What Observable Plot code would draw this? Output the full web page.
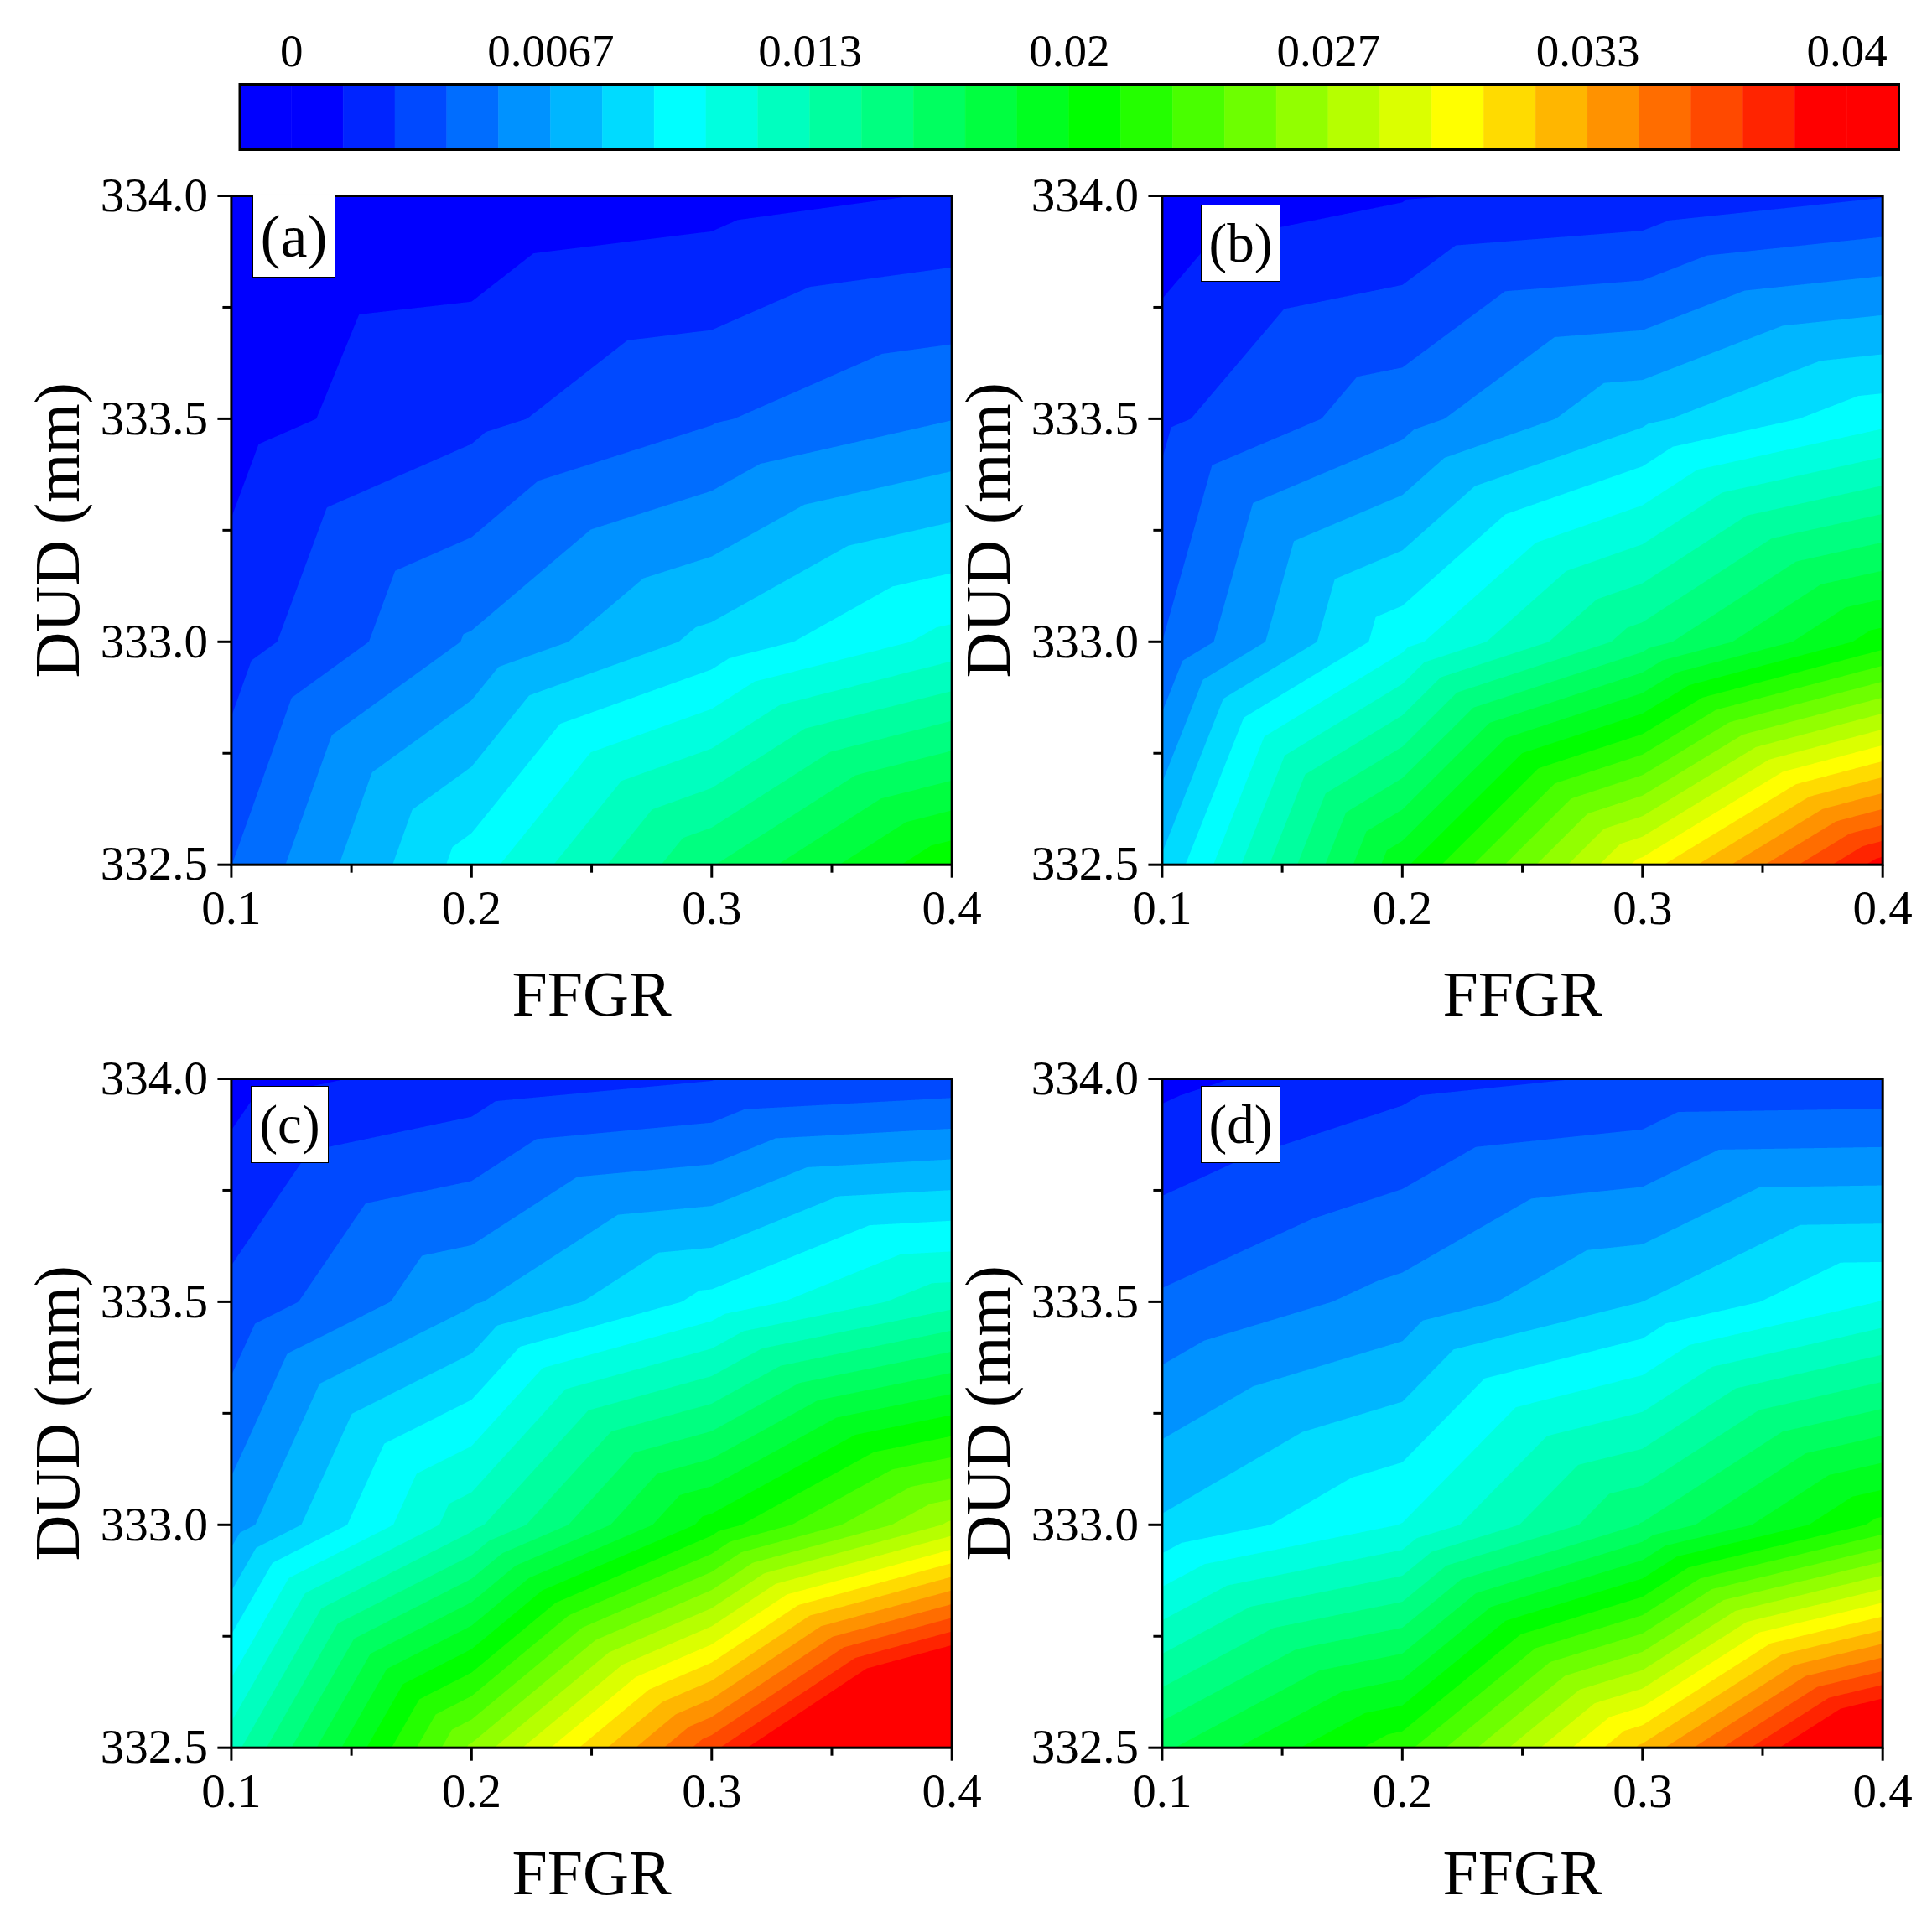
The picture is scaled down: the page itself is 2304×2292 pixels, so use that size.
<!DOCTYPE html>
<html>
<head>
<meta charset="utf-8">
<script src="https://cdn.jsdelivr.net/npm/d3@7"></script>
<script src="https://cdn.jsdelivr.net/npm/@observablehq/plot@0.6"></script>
<style>
  html, body { margin: 0; padding: 0; background: #fff; color: #000; }
  body { position: relative; width: 2304px; height: 2292px; overflow: hidden; font-family: "Liberation Serif", serif; }
  svg { position: absolute; overflow: visible; background: transparent; }
  .tag { position: absolute; box-sizing: border-box; background: #fff; border: 1.5px solid #000;
         display: flex; align-items: center; justify-content: center; line-height: 1; z-index: 5; }
</style>
</head>
<body>
<script>
// Mesh nodes of every panel
const ffgr = [0.1, 0.2, 0.3, 0.4];
const dud = [334, 333.5, 333, 332.5];

// Node values, one row per DUD (top to bottom), one column per FFGR
const valuesA = [
  0.000227, 0.000453, 0.000853, 0.001427,
  0.0008,   0.002307, 0.003867, 0.005293,
  0.002,    0.005493, 0.0084,   0.011133,
  0.003987, 0.009967, 0.015920, 0.021093
];
const valuesB = [
  0.00044,  0.001227, 0.001733, 0.0026,
  0.002373, 0.004827, 0.007707, 0.0102,
  0.004,    0.0102,   0.015333, 0.020667,
  0.008227, 0.019680, 0.029827, 0.039333
];
const valuesC = [
  0.000827, 0.00188,  0.0026,   0.003173,
  0.003027, 0.006507, 0.009733, 0.012853,
  0.005973, 0.012933, 0.020533, 0.026933,
  0.0128,   0.0256,   0.036933, 0.048667
];
const valuesD = [
  0.000973, 0.00224,  0.002827, 0.00296,
  0.0042,   0.0058,   0.008,    0.01072,
  0.0082,   0.010707, 0.016093, 0.021733,
  0.017067, 0.022173, 0.032307, 0.043467
];

// Contour levels and the 32 band colours of the colour bar
const levels = [0, 0.00133333, 0.00266667, 0.004, 0.00533333, 0.00666667, 0.008, 0.00933333, 0.01066667, 0.012,
  0.01333333, 0.01466667, 0.016, 0.01733333, 0.01866667, 0.02, 0.02133333, 0.02266667, 0.024, 0.02533333,
  0.02666667, 0.028, 0.02933333, 0.03066667, 0.032, 0.03333333, 0.03466667, 0.036, 0.03733333, 0.03866667, 0.04];
const bandColors = ["#0000ff", "#0000ff", "#0024ff", "#0049ff", "#006dff", "#0092ff", "#00b6ff", "#00dbff",
  "#00ffff", "#00ffdf", "#00ffbf", "#00ff9f", "#00ff80", "#00ff60", "#00ff40", "#00ff20",
  "#00ff00", "#24ff00", "#49ff00", "#6dff00", "#92ff00", "#b6ff00", "#dbff00", "#ffff00",
  "#ffdb00", "#ffb600", "#ff9200", "#ff6d00", "#ff4900", "#ff2400", "#ff0000", "#ff0000"];
const barEdges = [-0.00133333, ...levels, 0.04133333];
const barTickValues = [0, 0.00666667, 0.01333333, 0.02, 0.02666667, 0.03333333, 0.04];
const barTickLabels = ["0", "0.0067", "0.013", "0.02", "0.027", "0.033", "0.04"];

const xMajor = [0.1, 0.2, 0.3, 0.4];
const xMinor = [0.15, 0.25, 0.35];
const yMajor = [332.5, 333, 333.5, 334];
const yMinor = [332.75, 333.25, 333.75];

const panels = [
  {name: "(a)", values: valuesA, left: 0,      top: 192.5,  titleGap: 180, tagFont: 72, box: [301, 232, 99, 99]},
  {name: "(b)", values: valuesB, left: 1109.5, top: 192.5,  titleGap: 180, tagFont: 65, box: [1432, 244, 95, 92]},
  {name: "(c)", values: valuesC, left: 0,      top: 1245.8, titleGap: 175, tagFont: 65, box: [299, 1295, 93, 92]},
  {name: "(d)", values: valuesD, left: 1109.5, top: 1245.8, titleGap: 175, tagFont: 65, box: [1432, 1295, 95, 92]}
];

// Linear interpolation on the triangles of the mesh: each grid cell is split
// along the diagonal that runs from its upper left to its lower right node.
function triangleMesh(index, w, h, X, Y, V) {
  const I = Array.from(index);
  const xs = [...new Set(I.map((i) => X[i]))].sort(d3.ascending);
  const ys = [...new Set(I.map((i) => Y[i]))].sort(d3.ascending);
  const node = new Map(I.map((i) => [X[i] + "," + Y[i], +V[i]]));
  const at = (c, r) => node.get(xs[c] + "," + ys[r]);
  const out = new Float64Array(w * h);
  const cell = (vals, p) => Math.min(vals.length - 2, Math.max(0, d3.bisectRight(vals, p) - 1));
  for (let j = 0; j < h; ++j) {
    const py = j + 0.5, r = cell(ys, py), v = (py - ys[r]) / (ys[r + 1] - ys[r]);
    for (let i = 0; i < w; ++i) {
      const px = i + 0.5, c = cell(xs, px), u = (px - xs[c]) / (xs[c + 1] - xs[c]);
      const tl = at(c, r), tr = at(c + 1, r), bl = at(c, r + 1), br = at(c + 1, r + 1);
      out[i + j * w] = u >= v
        ? tl + u * (tr - tl) + v * (br - tr)
        : tl + v * (bl - tl) + u * (br - bl);
    }
  }
  return out;
}

const colorScale = {type: "threshold", domain: levels, range: bandColors};

// Colour bar
const bands = bandColors.map((color, i) => ({lo: barEdges[i], hi: barEdges[i + 1], color}));
const barPlot = Plot.plot({
  width: 2304, height: 190,
  marginLeft: 285.5, marginRight: 40, marginTop: 100, marginBottom: 12,
  style: {fontFamily: "Liberation Serif", background: "transparent", overflow: "visible"},
  x: {domain: [barEdges[0], barEdges[barEdges.length - 1]], axis: null},
  y: {domain: [0, 1], axis: null},
  marks: [
    Plot.rect(bands, {x1: "lo", x2: "hi", y1: 0, y2: 1, fill: "color", stroke: "color", strokeWidth: 0.5}),
    Plot.text(barTickValues, {x: (d) => d, text: (d, i) => barTickLabels[i], frameAnchor: "top", dy: -22,
      lineAnchor: "bottom", fontSize: 55, fill: "#000"}),
    Plot.frame({stroke: "#000", strokeWidth: 3})
  ]
});
barPlot.style.left = "0px";
barPlot.style.top = "0px";
document.body.append(barPlot);

// Contour panels
for (const p of panels) {
  const table = d3.cross(dud, ffgr).map(([y, x], i) => ({x, y, value: p.values[i]}));
  const svg = Plot.plot({
    width: 1185, height: 1027.7,
    marginLeft: 275.4, marginRight: 50.3, marginTop: 40, marginBottom: 190,
    style: {fontFamily: "Liberation Serif", background: "transparent", overflow: "visible"},
    x: {domain: [0.1, 0.4]},
    y: {domain: [332.5, 334]},
    color: colorScale,
    marks: [
      Plot.contour(table, {
        x: "x", y: "y", value: "value", fill: "value",
        thresholds: [-0.001, ...levels],
        interpolate: triangleMesh,
        pixelSize: 1
      }),
      Plot.axisX({ticks: xMajor, tickSize: 16, tickPadding: 14, tickFormat: ".1f", fontSize: 57, label: null, strokeWidth: 3, stroke: "#000", fill: "#000"}),
      Plot.axisX({ticks: xMinor, tickSize: 10, text: null, label: null, strokeWidth: 3, stroke: "#000"}),
      Plot.axisY({ticks: yMajor, tickSize: 16, tickPadding: 12, tickFormat: ".1f", fontSize: 57, label: null, strokeWidth: 3, stroke: "#000", fill: "#000"}),
      Plot.axisY({ticks: yMinor, tickSize: 10, text: null, label: null, strokeWidth: 3, stroke: "#000"}),
      Plot.frame({stroke: "#000", strokeWidth: 3}),
      Plot.text(["FFGR"], {text: (d) => d, frameAnchor: "bottom", dy: p.titleGap, lineAnchor: "bottom", fontSize: 76, fill: "#000"}),
      Plot.text(["DUD (mm)"], {text: (d) => d, frameAnchor: "left", dx: -182, rotate: -90, lineAnchor: "bottom", textAnchor: "middle", fontSize: 76, fill: "#000"})
    ]
  });
  svg.style.left = p.left + "px";
  svg.style.top = p.top + "px";
  document.body.append(svg);
  const tag = document.createElement("div");
  tag.className = "tag";
  tag.textContent = p.name;
  tag.style.fontSize = p.tagFont + "px";
  tag.style.left = p.box[0] + "px";
  tag.style.top = p.box[1] + "px";
  tag.style.width = p.box[2] + "px";
  tag.style.height = p.box[3] + "px";
  document.body.append(tag);
}
</script>
</body>
</html>
